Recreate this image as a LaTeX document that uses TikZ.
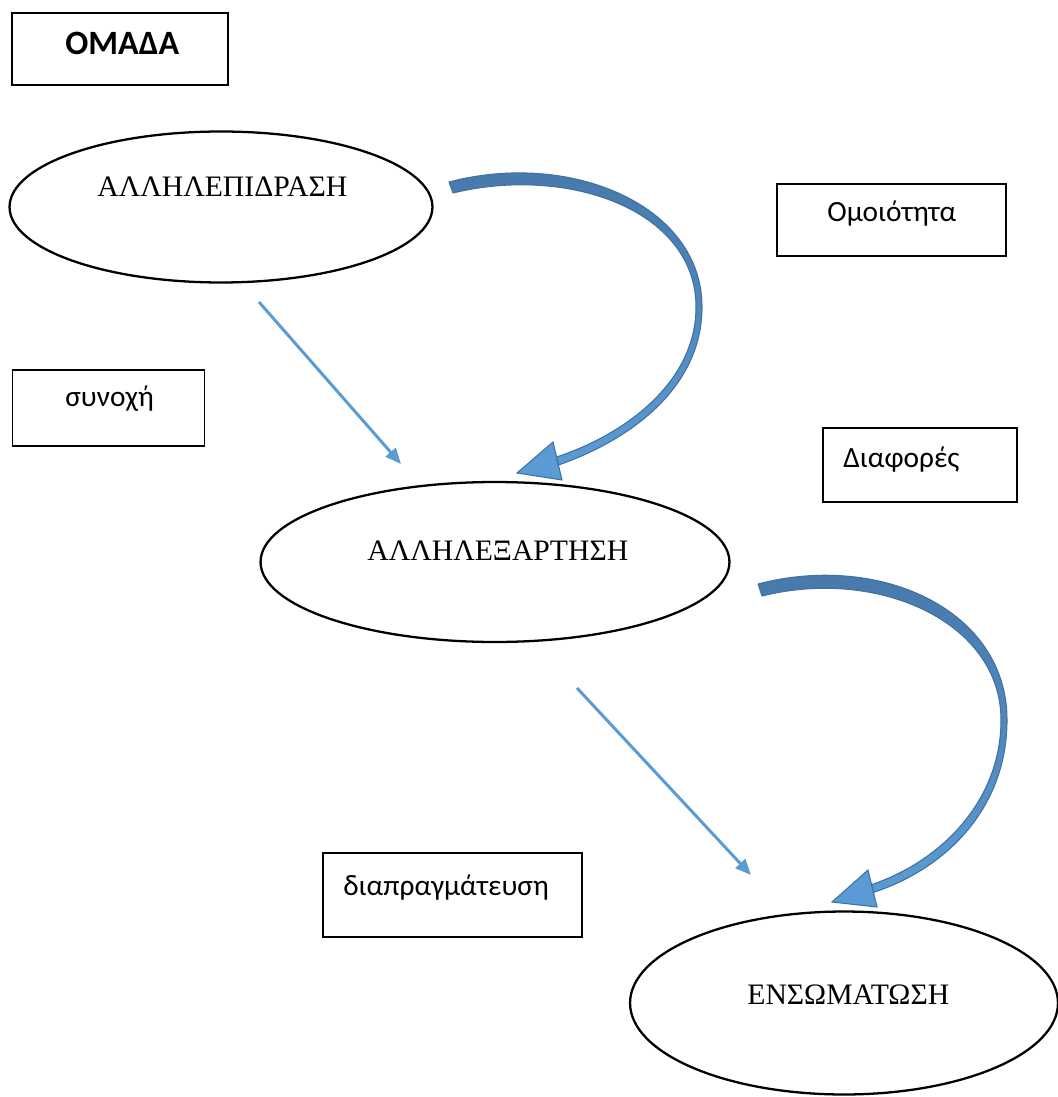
\documentclass[tikz,border=0pt]{standalone}
\usepackage{fontspec}
\setmainfont{Liberation Serif}[Script=Greek]
\newfontfamily\boxfont{Carlito}
\usetikzlibrary{shapes.geometric,arrows.meta}
\definecolor{linkblue}{HTML}{5B9BD5}
\definecolor{edgeblue}{HTML}{41719C}
\definecolor{bandblue}{HTML}{4677AA}
\begin{document}
\begin{tikzpicture}[x=0.02cm,y=-0.02cm,
  box/.style={draw=black, line width=0.8pt, rectangle, inner sep=0pt},
  stage/.style={draw=black, line width=1.3pt, ellipse, inner sep=0pt},
  boxtext/.style={anchor=base west, inner sep=0pt, font=\boxfont\fontsize{16.7pt}{20pt}\selectfont},
  titletext/.style={anchor=base west, inner sep=0pt, font=\boxfont\bfseries\fontsize{19.4pt}{23pt}\selectfont},
  stagetext/.style={anchor=base west, inner sep=0pt, font=\fontsize{16.9pt}{20pt}\selectfont},
  link/.style={draw=linkblue, line width=1.7pt, -{Triangle[length=9pt,width=7.5pt]}},
  band/.style={top color=bandblue, bottom color=linkblue, middle color=bandblue!55!linkblue,
    draw=edgeblue, line width=0.6pt, line join=round},
  bandhead/.style={fill=linkblue, draw=edgeblue, line width=0.6pt, line join=miter}]
\useasboundingbox (0,0) rectangle (1057,1097);

% text boxes
\node[box, minimum width=4.32cm, minimum height=1.44cm] (team) at (120,49) {};
\node[titletext] (teamtxt) at (65,55) {ΟΜΑΔΑ};

\node[box, minimum width=4.58cm, minimum height=1.44cm] (simil) at (891.5,220) {};
\node[boxtext] (similtxt) at (827,222) {Ομοιότητα};

\node[box, minimum width=3.84cm, minimum height=1.52cm] (cohes) at (108.5,408) {};
\node[boxtext] (cohestxt) at (65,407) {συνοχή};

\node[box, minimum width=3.88cm, minimum height=1.48cm] (diff) at (920,465) {};
\node[boxtext] (difftxt) at (843,467) {Διαφορές};

\node[box, minimum width=5.18cm, minimum height=1.68cm] (negot) at (452.5,895) {};
\node[boxtext] (negottxt) at (343,895) {διαπραγμάτευση};

% stages
\node[stage, minimum width=8.46cm, minimum height=3.02cm] (inter) at (221,207) {};
\node[stagetext] (intertxt) at (97,197) {ΑΛΛΗΛΕΠΙΔΡΑΣΗ};

\node[stage, minimum width=9.38cm, minimum height=3.2cm] (interdep) at (495,562) {};
\node[stagetext] (interdeptxt) at (367,560) {ΑΛΛΗΛΕΞΑΡΤΗΣΗ};

\node[stage, minimum width=8.56cm, minimum height=3.66cm] (integ) at (844,1003) {};
\node[stagetext] (integtxt) at (747,1004) {ΕΝΣΩΜΑΤΩΣΗ};

% straight links
\coordinate (l1s) at (259,302);
\coordinate (l1e) at (401,464);
\coordinate (l2s) at (577,688);
\coordinate (l2e) at (751,875);
\draw[link] (l1s) -- (l1e);
\draw[link] (l2s) -- (l2e);

% first curved band arrow: outer edge, then inner edge back
\coordinate (b1so) at (449,182);
\coordinate (b1si) at (453,193);
\coordinate (b1mo) at (702,307);
\coordinate (b1mi) at (696,307);
\coordinate (b1eo) at (558.5,465);
\coordinate (b1ei) at (556.5,457);
\coordinate (h1p) at (553,442);
\coordinate (h1q) at (562,480);
\coordinate (h1t) at (517,473);
\shadedraw[band] (b1so) .. controls (570,150) and (702,205) .. (b1mo)
  .. controls (702,388) and (630,440) .. (b1eo) -- (b1ei)
  .. controls (626,434) and (696,382) .. (b1mi)
  .. controls (696,210) and (568,165) .. (b1si) -- cycle;
\filldraw[bandhead] (h1p) -- (h1t) -- (h1q) -- cycle;

% second curved band arrow
\coordinate (b2so) at (758,584);
\coordinate (b2si) at (762,596);
\coordinate (b2mo) at (1007,720);
\coordinate (b2mi) at (1001,720);
\coordinate (b2eo) at (873.5,892.4);
\coordinate (b2ei) at (871.5,884.6);
\coordinate (h2p) at (868,870);
\coordinate (h2q) at (877,907);
\coordinate (h2t) at (832,902);
\shadedraw[band] (b2so) .. controls (880,552) and (1007,610) .. (b2mo)
  .. controls (1007,805) and (950,867) .. (b2eo) -- (b2ei)
  .. controls (942,861) and (1001,800) .. (b2mi)
  .. controls (1001,622) and (878,567) .. (b2si) -- cycle;
\filldraw[bandhead] (h2p) -- (h2t) -- (h2q) -- cycle;
\end{tikzpicture}
\end{document}
